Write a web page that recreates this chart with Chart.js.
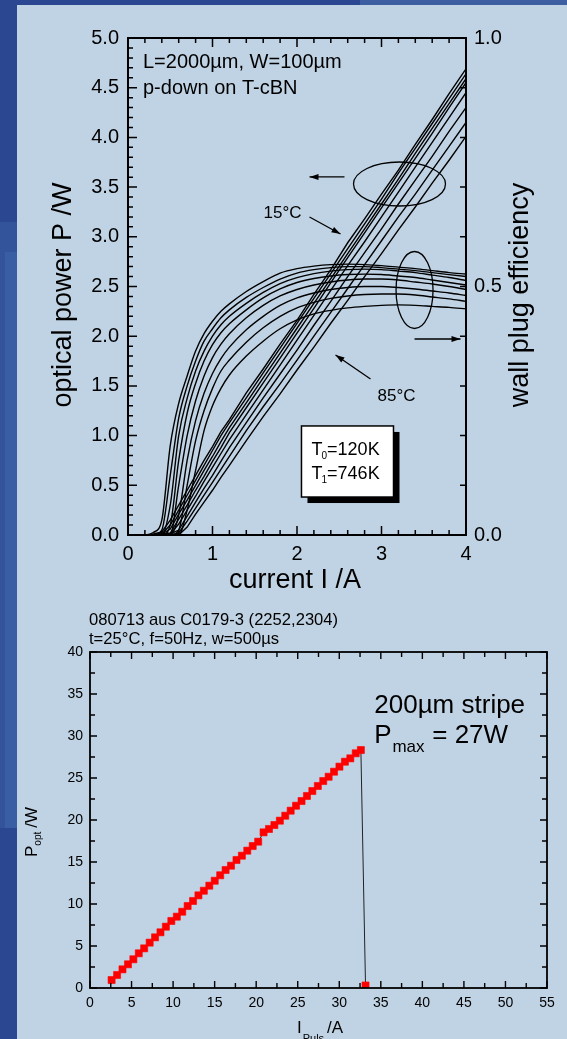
<!DOCTYPE html>
<html>
<head>
<meta charset="utf-8">
<script src="https://cdn.jsdelivr.net/npm/chart.js@4.4.1/dist/chart.umd.min.js"></script>
<style>
  html, body { margin: 0; padding: 0; }
  body { width: 567px; height: 1039px; position: relative; overflow: hidden; background: #2b4791; }
  #band { position: absolute; left: 360px; top: 0; width: 207px; height: 5px; background: #3d5fa1; }
  #strip { position: absolute; left: 0; top: 222px; width: 17px; height: 606px; background: #33539b; }
  #strip2 { position: absolute; left: 5px; top: 252px; width: 12px; height: 576px; background: #3a5ea3; }
  #panel { position: absolute; left: 17px; top: 5px; width: 550px; height: 1034px; background: #c0d3e4; }
  canvas { position: absolute; left: 0; }
  #topCanvas { top: 0; }
  #bottomCanvas { top: 600px; }
</style>
</head>
<body>
<div id="band"></div>
<div id="strip"></div>
<div id="strip2"></div>
<div id="panel"></div>
<canvas id="topCanvas" width="567" height="600"></canvas>
<canvas id="bottomCanvas" width="567" height="439"></canvas>
<script>
// ---- top chart: P-I and wall plug efficiency, 15..85 degC ----
const currentA = [0, 0.1, 0.2, 0.3, 0.4, 0.5, 0.6, 0.7, 0.8, 0.9, 1.0, 1.1, 1.2, 1.4, 1.6, 1.8, 2.0, 2.2, 2.4, 2.6, 2.8, 3.0, 3.2, 3.4, 3.6, 3.8, 4.0];

// optical power P /W
const p15 = [0, 0, 0, 0.01, 0.03, 0.15, 0.30, 0.45, 0.60, 0.75, 0.89, 1.04, 1.16, 1.43, 1.67, 1.92, 2.16, 2.42, 2.67, 2.94, 3.18, 3.43, 3.67, 3.93, 4.18, 4.44, 4.69];
const p25 = [0, 0, 0, 0, 0.01, 0.10, 0.25, 0.40, 0.55, 0.70, 0.85, 1.00, 1.13, 1.38, 1.63, 1.88, 2.13, 2.38, 2.63, 2.88, 3.13, 3.38, 3.64, 3.89, 4.14, 4.39, 4.64];
const p35 = [0, 0, 0, 0, 0.01, 0.06, 0.21, 0.35, 0.50, 0.65, 0.79, 0.94, 1.08, 1.33, 1.58, 1.83, 2.08, 2.33, 2.58, 2.83, 3.08, 3.33, 3.58, 3.84, 4.09, 4.34, 4.59];
const p45 = [0, 0, 0, 0, 0.01, 0.02, 0.16, 0.30, 0.45, 0.59, 0.74, 0.88, 1.03, 1.28, 1.53, 1.78, 2.03, 2.28, 2.54, 2.79, 3.04, 3.29, 3.54, 3.79, 4.04, 4.30, 4.55];
const p55 = [0, 0, 0, 0, 0, 0.01, 0.11, 0.25, 0.39, 0.54, 0.68, 0.82, 0.96, 1.21, 1.46, 1.71, 1.96, 2.21, 2.46, 2.71, 2.95, 3.20, 3.45, 3.70, 3.95, 4.20, 4.45];
const p65 = [0, 0, 0, 0, 0, 0.01, 0.05, 0.19, 0.33, 0.47, 0.60, 0.74, 0.88, 1.13, 1.38, 1.62, 1.86, 2.11, 2.35, 2.60, 2.84, 3.08, 3.33, 3.57, 3.81, 4.06, 4.30];
const p75 = [0, 0, 0, 0, 0, 0, 0.02, 0.14, 0.27, 0.40, 0.53, 0.66, 0.79, 1.05, 1.29, 1.52, 1.76, 2.00, 2.24, 2.48, 2.72, 2.96, 3.20, 3.43, 3.67, 3.91, 4.15];
const p85 = [0, 0, 0, 0, 0, 0, 0, 0.08, 0.21, 0.33, 0.45, 0.58, 0.70, 0.95, 1.19, 1.42, 1.66, 1.89, 2.13, 2.36, 2.60, 2.83, 3.07, 3.30, 3.54, 3.77, 4.01];

// wall plug efficiency
const e15 = [0, 0, 0, 0.005, 0.03, 0.18, 0.265, 0.32, 0.37, 0.405, 0.43, 0.45, 0.465, 0.49, 0.51, 0.527, 0.536, 0.541, 0.544, 0.545, 0.544, 0.542, 0.539, 0.536, 0.532, 0.528, 0.525];
const e25 = [0, 0, 0, 0, 0.01, 0.12, 0.235, 0.30, 0.35, 0.39, 0.415, 0.437, 0.453, 0.478, 0.498, 0.515, 0.527, 0.534, 0.538, 0.54, 0.54, 0.538, 0.535, 0.532, 0.528, 0.524, 0.52];
const e35 = [0, 0, 0, 0, 0, 0.06, 0.20, 0.275, 0.33, 0.37, 0.40, 0.423, 0.44, 0.466, 0.488, 0.506, 0.518, 0.526, 0.531, 0.534, 0.535, 0.534, 0.531, 0.528, 0.523, 0.518, 0.512];
const e45 = [0, 0, 0, 0, 0, 0.02, 0.15, 0.245, 0.305, 0.35, 0.383, 0.407, 0.425, 0.453, 0.477, 0.495, 0.508, 0.516, 0.521, 0.524, 0.525, 0.524, 0.521, 0.518, 0.513, 0.508, 0.503];
const e55 = [0, 0, 0, 0, 0, 0, 0.10, 0.20, 0.27, 0.32, 0.357, 0.384, 0.405, 0.437, 0.462, 0.481, 0.494, 0.503, 0.509, 0.513, 0.515, 0.515, 0.513, 0.509, 0.505, 0.50, 0.494];
const e65 = [0, 0, 0, 0, 0, 0, 0.04, 0.15, 0.23, 0.285, 0.325, 0.355, 0.378, 0.413, 0.44, 0.462, 0.477, 0.487, 0.494, 0.498, 0.50, 0.50, 0.498, 0.495, 0.491, 0.487, 0.482];
const e75 = [0, 0, 0, 0, 0, 0, 0.01, 0.10, 0.19, 0.25, 0.295, 0.33, 0.352, 0.388, 0.417, 0.44, 0.457, 0.468, 0.476, 0.481, 0.484, 0.485, 0.485, 0.483, 0.479, 0.475, 0.47];
const e85 = [0, 0, 0, 0, 0, 0, 0, 0.05, 0.13, 0.21, 0.26, 0.295, 0.322, 0.36, 0.39, 0.415, 0.433, 0.445, 0.452, 0.457, 0.46, 0.462, 0.463, 0.462, 0.46, 0.458, 0.455];

const currentTicks = [0, 1, 2, 3, 4];
const powerTicks = [0, 0.5, 1.0, 1.5, 2.0, 2.5, 3.0, 3.5, 4.0, 4.5, 5.0];
const effTicks = [0, 0.5, 1.0];

// ---- bottom chart: pulsed P-I, 200um stripe ----
const pulseCurrent = [2.6, 3.26, 3.91, 4.57, 5.22, 5.87, 6.52, 7.18, 7.83, 8.48, 9.13, 9.79, 10.45, 11.1, 11.75, 12.4, 13.05, 13.7, 14.36, 15.01, 15.67, 16.32, 16.97, 17.63, 18.28, 18.93, 19.58, 20.24, 20.89, 21.54, 22.19, 22.85, 23.5, 24.15, 24.8, 25.46, 26.11, 26.76, 27.42, 28.07, 28.72, 29.37, 30.02, 30.68, 31.33, 31.98, 32.6, 33.16];
const pulsePower = [0.95, 1.55, 2.22, 2.82, 3.42, 4.13, 4.72, 5.4, 6.03, 6.63, 7.3, 7.98, 8.49, 9.08, 9.76, 10.36, 11.03, 11.58, 12.18, 12.77, 13.42, 14.05, 14.56, 15.24, 15.75, 16.35, 16.9, 17.42, 18.53, 18.93, 19.4, 19.92, 20.51, 21.11, 21.7, 22.26, 22.86, 23.45, 24.05, 24.64, 25.15, 25.75, 26.35, 26.94, 27.34, 27.94, 28.33, 0.3];
const pulseXTicks = [0, 5, 10, 15, 20, 25, 30, 35, 40, 45, 50, 55];
const pulseYTicks = [0, 5, 10, 15, 20, 25, 30, 35, 40];

const FONT = 'Arial, "Liberation Sans", sans-serif';
Chart.defaults.font.family = FONT;
Chart.defaults.color = '#000';

function toPoints(xs, ys) {
    return xs.map((x, i) => ({x: x, y: ys[i]}));
}

function setTicks(list) {
    return function(scale) {
        scale.ticks = list.map(v => ({value: v}));
    };
}

// inward tick marks on the frame, major + minor
function tickMarks(chart, scaleId, from, to, step, majorStep, majorLen, minorLen, sides) {
    const s = chart.scales[scaleId], a = chart.chartArea, ctx = chart.ctx;
    const n = Math.round((to - from) / step);
    ctx.beginPath();
    for (let i = 0; i <= n; i++) {
        const v = from + i * step;
        const r = v / majorStep;
        const len = Math.abs(r - Math.round(r)) < 1e-6 ? majorLen : minorLen;
        const p = s.getPixelForValue(v);
        for (const side of sides) {
            if (side === 'bottom') { ctx.moveTo(p, a.bottom); ctx.lineTo(p, a.bottom - len); }
            if (side === 'top') { ctx.moveTo(p, a.top); ctx.lineTo(p, a.top + len); }
            if (side === 'left') { ctx.moveTo(a.left, p); ctx.lineTo(a.left + len, p); }
            if (side === 'right') { ctx.moveTo(a.right, p); ctx.lineTo(a.right - len, p); }
        }
    }
    ctx.stroke();
}

function arrow(ctx, x1, y1, x2, y2) {
    ctx.beginPath();
    ctx.moveTo(x1, y1);
    ctx.lineTo(x2, y2);
    ctx.stroke();
    const ang = Math.atan2(y2 - y1, x2 - x1), L = 9, W = 3;
    const c = Math.cos(ang), s = Math.sin(ang);
    ctx.beginPath();
    ctx.moveTo(x2, y2);
    ctx.lineTo(x2 - L * c + W * s, y2 - L * s - W * c);
    ctx.lineTo(x2 - L * c - W * s, y2 - L * s + W * c);
    ctx.closePath();
    ctx.fill();
}

const topFrame = {
    id: 'topFrame',
    afterDatasetsDraw(chart) {
        const ctx = chart.ctx, a = chart.chartArea;
        const X = v => chart.scales.x.getPixelForValue(v);
        const Y = v => chart.scales.y.getPixelForValue(v);
        ctx.save();
        ctx.strokeStyle = '#000';
        ctx.fillStyle = '#000';
        ctx.lineWidth = 2;
        ctx.strokeRect(a.left, a.top, a.right - a.left, a.bottom - a.top);
        ctx.lineWidth = 1.5;
        tickMarks(chart, 'x', 0, 4, 0.2, 1, 9, 5, ['bottom', 'top']);
        tickMarks(chart, 'y', 0, 5, 0.1, 0.5, 9, 5, ['left']);
        tickMarks(chart, 'y1', 0, 1, 0.1, 0.5, 6, 6, ['right']);

        // notes
        ctx.textAlign = 'left';
        ctx.textBaseline = 'alphabetic';
        ctx.font = '20px ' + FONT;
        ctx.fillText('L=2000µm, W=100µm', a.left + 15, a.top + 30);
        ctx.fillText('p-down on T-cBN', a.left + 15, a.top + 56);
        ctx.font = '17px ' + FONT;
        ctx.fillText('15°C', X(1.604), Y(3.19));
        ctx.fillText('85°C', X(2.953), Y(1.351));

        ctx.lineWidth = 1.3;
        arrow(ctx, X(2.148), Y(3.199), X(2.515), Y(3.028));
        arrow(ctx, X(2.870), Y(1.569), X(2.456), Y(1.811));
        arrow(ctx, X(2.562), Y(3.602), X(2.148), Y(3.602));
        arrow(ctx, X(3.391), Y(1.972), X(3.935), Y(1.972));

        ctx.beginPath();
        ctx.ellipse(X(3.213), Y(3.531), 46, 22, 0, 0, 2 * Math.PI);
        ctx.stroke();
        ctx.beginPath();
        ctx.ellipse(X(3.391), Y(2.465), 18.5, 38.5, 0, 0, 2 * Math.PI);
        ctx.stroke();

        // T0 / T1 box with shadow
        const bx = X(2.053), by = Y(1.097), bw = X(3.142) - bx, bh = Y(0.382) - by;
        ctx.fillRect(bx + 6, by + 6, bw, bh);
        ctx.fillStyle = '#fff';
        ctx.fillRect(bx, by, bw, bh);
        ctx.lineWidth = 1.5;
        ctx.strokeRect(bx, by, bw, bh);
        ctx.fillStyle = '#000';
        const rows = [['0', '=120K', 0.805], ['1', '=746K', 0.56]];
        for (const r of rows) {
            let tx = X(2.172);
            const ty = Y(r[2]);
            ctx.font = '18px ' + FONT;
            ctx.fillText('T', tx, ty);
            tx += ctx.measureText('T').width - 1;
            ctx.font = '10px ' + FONT;
            ctx.fillText(r[0], tx, ty + 4);
            tx += ctx.measureText(r[0]).width;
            ctx.font = '18px ' + FONT;
            ctx.fillText(r[1], tx, ty);
        }

        // axis titles
        ctx.font = '27px ' + FONT;
        ctx.textAlign = 'center';
        ctx.fillText('current I /A', 295, 588);
        ctx.save();
        ctx.translate(71, 295);
        ctx.rotate(-Math.PI / 2);
        ctx.fillText('optical power P /W', 0, 0);
        ctx.restore();
        ctx.save();
        ctx.translate(528, 295);
        ctx.rotate(-Math.PI / 2);
        ctx.fillText('wall plug efficiency', 0, 0);
        ctx.restore();
        ctx.restore();
    }
};

const powerSeries = [p15, p25, p35, p45, p55, p65, p75, p85];
const effSeries = [e15, e25, e35, e45, e55, e65, e75, e85];
const topSets = [];
powerSeries.forEach(arr => topSets.push({
    data: toPoints(currentA, arr), yAxisID: 'y',
    borderColor: '#000', borderWidth: 1.4, pointRadius: 0, tension: 0
}));
effSeries.forEach(arr => topSets.push({
    data: toPoints(currentA, arr), yAxisID: 'y1',
    borderColor: '#000', borderWidth: 1.4, pointRadius: 0, cubicInterpolationMode: 'monotone'
}));

new Chart(document.getElementById('topCanvas'), {
    type: 'line',
    data: {datasets: topSets},
    options: {
        responsive: false,
        animation: false,
        layout: {padding: {top: 38, left: 0, right: 0, bottom: 0}},
        plugins: {legend: {display: false}, tooltip: {enabled: false}},
        scales: {
            x: {
                type: 'linear', min: 0, max: 4,
                afterBuildTicks: setTicks(currentTicks),
                afterFit: s => { s.height = 65; },
                grid: {display: false, drawTicks: false}, border: {display: false},
                ticks: {padding: 7, font: {size: 20}, callback: v => String(v)}
            },
            y: {
                position: 'left', min: 0, max: 5,
                afterBuildTicks: setTicks(powerTicks),
                afterFit: s => { s.width = 128; },
                grid: {display: false, drawTicks: false}, border: {display: false},
                ticks: {padding: 9, font: {size: 20}, callback: v => v.toFixed(1)}
            },
            y1: {
                position: 'right', min: 0, max: 1,
                afterBuildTicks: setTicks(effTicks),
                afterFit: s => { s.width = 101; },
                grid: {display: false, drawTicks: false}, border: {display: false},
                ticks: {padding: 8, font: {size: 20}, callback: v => v.toFixed(1)}
            }
        }
    },
    plugins: [topFrame]
});

const bottomFrame = {
    id: 'bottomFrame',
    afterDatasetsDraw(chart) {
        const ctx = chart.ctx, a = chart.chartArea;
        const X = v => chart.scales.x.getPixelForValue(v);
        const Y = v => chart.scales.y.getPixelForValue(v);
        ctx.save();
        ctx.strokeStyle = '#000';
        ctx.fillStyle = '#000';
        ctx.lineWidth = 1.8;
        ctx.strokeRect(a.left, a.top, a.right - a.left, a.bottom - a.top);
        ctx.lineWidth = 1.4;
        tickMarks(chart, 'x', 0, 55, 2.5, 5, 7, 5, ['bottom', 'top']);
        tickMarks(chart, 'y', 0, 40, 2.5, 5, 7, 5, ['left', 'right']);

        ctx.textAlign = 'left';
        ctx.textBaseline = 'alphabetic';
        ctx.font = '16.6px ' + FONT;
        ctx.fillText('080713 aus C0179-3 (2252,2304)', a.left - 1, a.top - 27);
        ctx.fillText('t=25°C, f=50Hz, w=500µs', a.left - 1, a.top - 8);

        ctx.font = '26px ' + FONT;
        ctx.fillText('200µm stripe', X(34.21), Y(32.7));
        ctx.fillText('P', X(34.21), Y(29.13));
        ctx.font = '17px ' + FONT;
        ctx.fillText('max', X(36.4), Y(28.13));
        ctx.font = '26px ' + FONT;
        ctx.fillText('= 27W', X(41.19), Y(29.13));

        // axis titles with subscripts
        ctx.font = '17px ' + FONT;
        let tx = 297;
        ctx.fillText('I', tx, 433);
        tx += ctx.measureText('I').width + 1;
        ctx.font = '11px ' + FONT;
        ctx.fillText('Puls', tx, 442);
        tx += ctx.measureText('Puls').width + 3;
        ctx.font = '17px ' + FONT;
        ctx.fillText('/A', tx, 433);

        ctx.save();
        ctx.translate(37, 257);
        ctx.rotate(-Math.PI / 2);
        let ty = 0;
        ctx.font = '17px ' + FONT;
        ctx.fillText('P', ty, 0);
        ty += ctx.measureText('P').width;
        ctx.font = '10px ' + FONT;
        ctx.fillText('opt', ty, 4);
        ty += ctx.measureText('opt').width + 4;
        ctx.font = '17px ' + FONT;
        ctx.fillText('/W', ty, 0);
        ctx.restore();
        ctx.restore();
    }
};

new Chart(document.getElementById('bottomCanvas'), {
    type: 'scatter',
    data: {
        datasets: [{
            data: toPoints(pulseCurrent, pulsePower),
            showLine: true,
            borderColor: '#222',
            borderWidth: 1,
            pointStyle: 'rect',
            pointRadius: 5,
            pointBorderWidth: 0.6,
            pointBackgroundColor: '#ff0000',
            pointBorderColor: '#ff0000'
        }]
    },
    options: {
        responsive: false,
        animation: false,
        layout: {padding: {top: 52, left: 0, right: 20, bottom: 0}},
        plugins: {legend: {display: false}, tooltip: {enabled: false}},
        scales: {
            x: {
                type: 'linear', min: 0, max: 55,
                afterBuildTicks: setTicks(pulseXTicks),
                afterFit: s => { s.height = 51; },
                grid: {display: false, drawTicks: false}, border: {display: false},
                ticks: {padding: 7, font: {size: 14}}
            },
            y: {
                min: 0, max: 40,
                afterBuildTicks: setTicks(pulseYTicks),
                afterFit: s => { s.width = 90; },
                grid: {display: false, drawTicks: false}, border: {display: false},
                ticks: {padding: 7, font: {size: 14}}
            }
        }
    },
    plugins: [bottomFrame]
});
</script>
</body>
</html>
